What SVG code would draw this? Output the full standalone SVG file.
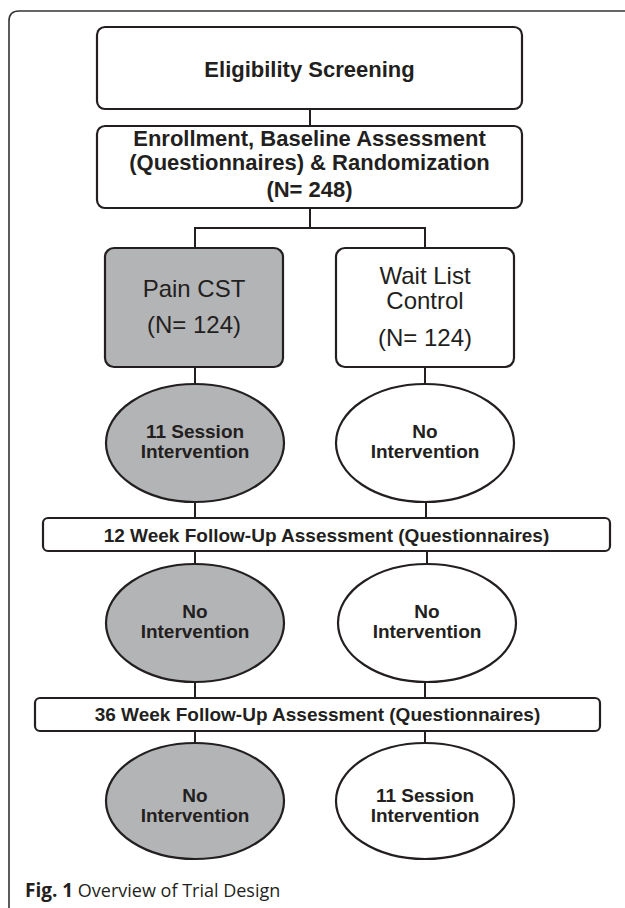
<svg xmlns="http://www.w3.org/2000/svg" width="625" height="908" viewBox="0 0 625 908">
<style>
.box{fill:#ffffff;stroke:#231f20;stroke-width:2.2}
.gray{fill:#b3b4b6;stroke:#231f20;stroke-width:2.2}
.wht{fill:#ffffff;stroke:#231f20;stroke-width:2.2}
.conn line,.conn path{stroke:#231f20;stroke-width:2;fill:none}
text{font-family:"Liberation Sans",Arial,sans-serif;fill:#231f20;text-anchor:middle}
.b22{font-size:22px;font-weight:bold}
.r24{font-size:24px}
.b19{font-size:19px;font-weight:bold}
.cap{font-family:"Open Sans","Noto Sans",sans-serif;font-size:18px;text-anchor:start;fill:#231f20}
</style>
<rect width="625" height="908" fill="#ffffff"/>
<path d="M9,908 V21 Q9,11 19,11 H625" fill="none" stroke="#333333" stroke-width="1.6"/>
<g class="conn" id="connectors">
<line x1="310" y1="109" x2="310" y2="126"/>
<line x1="310" y1="208" x2="310" y2="228"/>
<path d="M195,248 V228 H425 V248"/>
<line x1="195" y1="367" x2="195" y2="384"/>
<line x1="425" y1="367" x2="425" y2="384"/>
<line x1="195" y1="502" x2="195" y2="518"/>
<line x1="426" y1="502" x2="426" y2="518"/>
<line x1="195" y1="551" x2="195" y2="564"/>
<line x1="427" y1="551" x2="427" y2="564"/>
<line x1="195" y1="682" x2="195" y2="698"/>
<line x1="425" y1="682" x2="425" y2="698"/>
<line x1="195" y1="731" x2="195" y2="743"/>
<line x1="425" y1="731" x2="425" y2="743"/>
</g>
<g id="eligibility">
<rect class="box" x="97" y="27" width="425" height="82" rx="8"/>
<text class="b22" x="309.5" y="77">Eligibility Screening</text>
</g>
<g id="enrollment">
<rect class="box" x="97" y="126" width="425" height="82" rx="8"/>
<text class="b22" x="309.5" y="146">Enrollment, Baseline Assessment</text>
<text class="b22" x="309.5" y="170">(Questionnaires) &amp; Randomization</text>
<text class="b22" x="309.5" y="197">(N= 248)</text>
</g>
<g id="pain-cst">
<rect class="gray" x="105" y="248" width="178" height="119" rx="9"/>
<text class="r24" x="194" y="297">Pain CST</text>
<text class="r24" x="194" y="333">(N= 124)</text>
</g>
<g id="wait-list">
<rect class="wht" x="336" y="248" width="178" height="119" rx="9"/>
<text class="r24" x="425" y="284">Wait List</text>
<text class="r24" x="425" y="309">Control</text>
<text class="r24" x="425" y="346">(N= 124)</text>
</g>
<g id="pain-session">
<ellipse class="gray" cx="195" cy="443" rx="89" ry="59"/>
<text class="b19" x="195" y="438">11 Session</text>
<text class="b19" x="195" y="458">Intervention</text>
</g>
<g id="wait-no1">
<ellipse class="wht" cx="425" cy="443" rx="89" ry="59"/>
<text class="b19" x="425" y="438">No</text>
<text class="b19" x="425" y="458">Intervention</text>
</g>
<g id="week12">
<rect class="box" x="43" y="518" width="567" height="33" rx="5"/>
<text class="b19" x="326.5" y="542">12 Week Follow-Up Assessment (Questionnaires)</text>
</g>
<g id="pain-no2">
<ellipse class="gray" cx="195" cy="623" rx="89" ry="59"/>
<text class="b19" x="195" y="618">No</text>
<text class="b19" x="195" y="638">Intervention</text>
</g>
<g id="wait-no2">
<ellipse class="wht" cx="427" cy="623" rx="89" ry="59"/>
<text class="b19" x="427" y="618">No</text>
<text class="b19" x="427" y="638">Intervention</text>
</g>
<g id="week36">
<rect class="box" x="35" y="698" width="565" height="33" rx="5"/>
<text class="b19" x="317.5" y="721">36 Week Follow-Up Assessment (Questionnaires)</text>
</g>
<g id="pain-no3">
<ellipse class="gray" cx="195" cy="801" rx="89" ry="58"/>
<text class="b19" x="195" y="802">No</text>
<text class="b19" x="195" y="822">Intervention</text>
</g>
<g id="wait-session">
<ellipse class="wht" cx="425" cy="801" rx="89" ry="58"/>
<text class="b19" x="425" y="802">11 Session</text>
<text class="b19" x="425" y="822">Intervention</text>
</g>
<text class="cap" x="25" y="897"><tspan font-weight="bold" font-size="19">Fig. 1</tspan> Overview of Trial Design</text>
</svg>
